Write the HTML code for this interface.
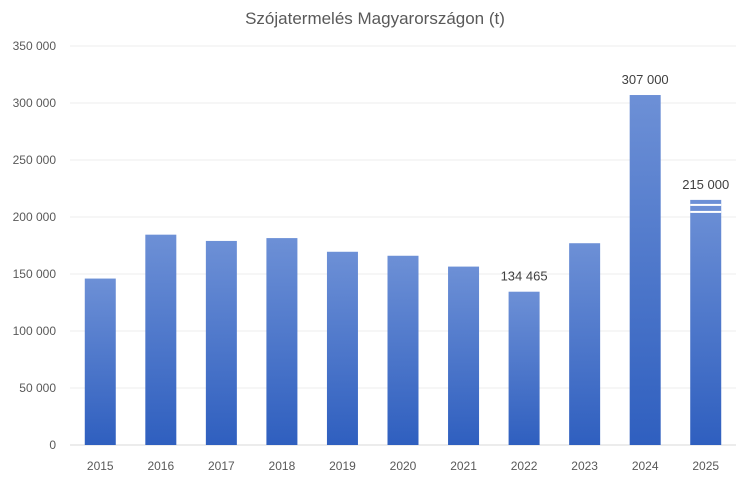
<!DOCTYPE html>
<html><head><meta charset="utf-8"><style>
body{margin:0;background:#fff;}
svg text{font-family:"Liberation Sans",sans-serif;}
</style></head><body>
<svg id="chart" width="750" height="481" xmlns="http://www.w3.org/2000/svg">
<defs><linearGradient id="g" x1="0" y1="0" x2="0" y2="1"><stop offset="0" stop-color="#6d90d6"/><stop offset="1" stop-color="#2f5fbf"/></linearGradient></defs>
<text x="375" y="24" text-anchor="middle" font-size="17" fill="#595959">Szójatermelés Magyarországon (t)</text>
<g id="grid"></g><g id="bars"></g><g id="labels"></g>
</svg>
<script>
const categories=["2015","2016","2017","2018","2019","2020","2021","2022","2023","2024","2025"];
const values=[146000,184500,179000,181500,169500,166000,156500,134465,177000,307000,215000];
const printed=[null,null,null,null,null,null,null,"134 465",null,"307 000","215 000"];
const yTicks=[0,50000,100000,150000,200000,250000,300000,350000];
const NS="http://www.w3.org/2000/svg";
const x0=70,x1=736,yb=445,yt=46,ymax=350000;
const y=v=>yb-(v/ymax)*(yb-yt);
const step=(x1-x0)/categories.length;
const xc=i=>x0+step*(i+0.5);
function mk(t,a,p,txt){const e=document.createElementNS(NS,t);for(const k in a)e.setAttribute(k,a[k]);if(txt!=null)e.textContent=txt;p.appendChild(e);return e;}
const G=document.getElementById('grid'),B=document.getElementById('bars'),L=document.getElementById('labels');
yTicks.forEach(v=>{
 const l=mk('line',{x1:x0,x2:x1,y1:y(v),y2:y(v),stroke:v===0?'#d9d9d9':'#ececec','stroke-width':1},G);
 
 
 const t=mk('text',{x:56,y:y(v)+4,'text-anchor':'end','font-size':12,fill:'#595959'},G,v===0?'0':v.toLocaleString('en').replace(/,/g,' '));
 
 
});
const bw=31;
categories.forEach((c,i)=>{
 const r=mk('rect',{x:xc(i)-bw/2,y:y(values[i]),width:bw,height:yb-y(values[i]),fill:'url(#g)'},B);
 
 
 if(i===categories.length-1){
  [4,11].forEach(o=>{const s=mk('rect',{x:xc(i)-bw/2,y:y(values[i])+o,width:bw,height:2,fill:'#fff'},B);
   
   });
 }
 const t=mk('text',{x:xc(i),y:470,'text-anchor':'middle','font-size':12,fill:'#595959'},L,c);
 
 
 if(printed[i]){const d=mk('text',{x:xc(i),y:y(values[i])-11,'text-anchor':'middle','font-size':13,fill:'#404040'},L,printed[i]);
  
  }
});
</script>
</body></html>
